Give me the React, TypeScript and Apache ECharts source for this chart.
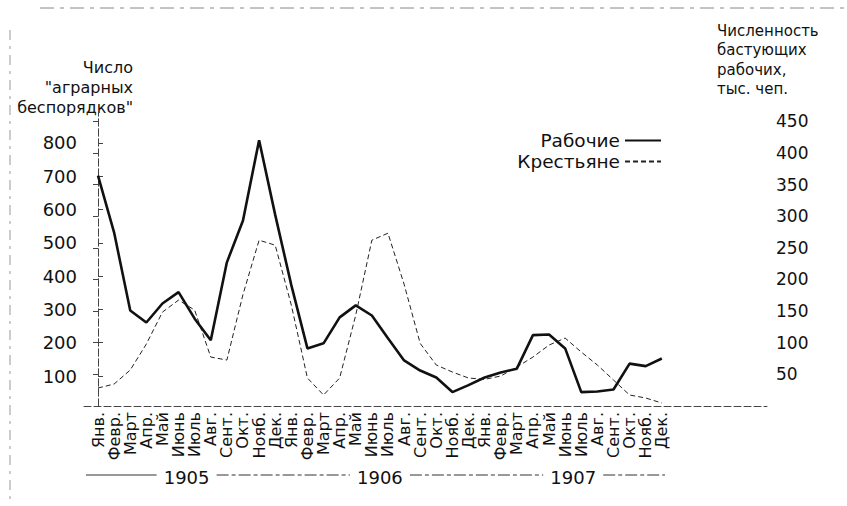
import React, { useEffect, useRef } from "react";
import * as echarts from "echarts";

const monthLabels = [
  "Янв.", "Февр.", "Март", "Апр.", "Май", "Июнь", "Июль", "Авг.", "Сент.", "Окт.", "Нояб.", "Дек.",
  "Янв.", "Февр.", "Март", "Апр.", "Май", "Июнь", "Июль", "Авг.", "Сент.", "Окт.", "Нояб.", "Дек.",
  "Янв.", "Февр.", "Март", "Апр.", "Май", "Июнь", "Июль", "Авг.", "Сент.", "Окт.", "Нояб.", "Дек.",
];
const years = ["1905", "1906", "1907"];

// Workers on strike, thousands (right axis)
const workers = [
  364, 274, 151, 132, 162, 180, 138, 104, 227, 293, 420, 302,
  191, 91, 99, 140, 159, 143, 107, 72, 56, 45, 22, 33,
  45, 53, 59, 112, 113, 91, 22, 23, 26, 67, 63, 75,
];
// Number of "agrarian disturbances" (left axis)
const peasants = [
  64, 76, 118, 196, 292, 328, 298, 157, 148, 345, 508, 493,
  313, 94, 43, 94, 283, 508, 529, 376, 198, 133, 112, 94,
  90, 100, 127, 157, 193, 214, 172, 133, 88, 43, 34, 19,
];
const leftTicks = [100, 200, 300, 400, 500, 600, 700, 800];
const rightTicks = [50, 100, 150, 200, 250, 300, 350, 400, 450];
const seriesNames = ["Рабочие", "Крестьяне"];

const FONT = "DejaVu Sans";

export default function App() {
  const ref = useRef<HTMLDivElement>(null);
  useEffect(() => {
    document.body.style.margin = "0";
    if (!ref.current) return;
    const chart = echarts.init(ref.current, null, { renderer: "svg" });
    const idx = monthLabels.map((_, i) => i);
    const axisLineStyle = { color: "#444", width: 1, type: [7, 3] as any };
    chart.setOption({
      animation: false,
      backgroundColor: "#fff",
      grid: { left: 84, right: 80, top: 113, bottom: 100, containLabel: false, outerBoundsMode: "none" },
      legend: {
        data: seriesNames,
        orient: "vertical",
        align: "right",
        right: 180,
        top: 126,
        itemWidth: 36,
        itemHeight: 12,
        itemGap: 2,
        itemStyle: { opacity: 0 },
        textStyle: { fontFamily: FONT, fontSize: 18.5, lineHeight: 17, color: "#111" },
      },
      xAxis: [
        {
          type: "value",
          min: -0.87,
          max: 41.53,
          axisLine: { show: true, lineStyle: axisLineStyle },
          axisTick: { show: false },
          splitLine: { show: false },
          axisLabel: {
            customValues: idx,
            rotate: 90,
            margin: 6,
            showMinLabel: true,
            showMaxLabel: true,
            hideOverlap: false,
            fontFamily: FONT,
            fontSize: 16,
            color: "#111",
            formatter: (v: number) => monthLabels[Math.round(v)] ?? "",
          },
        },
        {
          type: "value",
          position: "bottom",
          offset: 56,
          min: -0.87,
          max: 41.53,
          axisLine: { show: false },
          axisTick: { show: false },
          splitLine: { show: false },
          axisLabel: {
            customValues: years.map((_, k) => k * 12 + 5.5),
            margin: 6,
            showMinLabel: true,
            showMaxLabel: true,
            fontFamily: FONT,
            fontSize: 18,
            color: "#111",
            formatter: (v: number) => years[Math.floor(v / 12)] ?? "",
          },
        },
      ],
      yAxis: [
        {
          type: "value",
          position: "left",
          min: 10,
          max: 890,
          axisLine: { show: true, lineStyle: axisLineStyle },
          axisTick: { show: true, inside: true, length: 5, customValues: leftTicks, lineStyle: { color: "#444" } },
          splitLine: { show: false },
          axisLabel: {
            customValues: leftTicks,
            margin: 7,
            showMinLabel: true,
            showMaxLabel: true,
            fontFamily: FONT,
            fontSize: 18,
            color: "#111",
          },
        },
        {
          type: "value",
          position: "right",
          min: 0,
          max: 463,
          axisLine: { show: true, lineStyle: axisLineStyle },
          axisTick: { show: true, inside: true, length: 5, customValues: rightTicks, lineStyle: { color: "#444" } },
          splitLine: { show: false },
          axisLabel: {
            customValues: rightTicks,
            margin: 9,
            showMinLabel: true,
            showMaxLabel: true,
            fontFamily: FONT,
            fontSize: 17,
            color: "#111",
          },
        },
      ],
      series: [
        {
          name: seriesNames[0],
          type: "line",
          xAxisIndex: 0,
          yAxisIndex: 1,
          symbol: "none",
          lineStyle: { color: "#111", width: 2.6 },
          itemStyle: { color: "#111" },
          data: workers.map((v, i) => [i, v]),
          z: 3,
        },
        {
          name: seriesNames[1],
          type: "line",
          xAxisIndex: 0,
          yAxisIndex: 0,
          symbol: "none",
          lineStyle: { color: "#222", width: 1, type: [5, 3] },
          itemStyle: { color: "#222" },
          data: peasants.map((v, i) => [i, v]),
          z: 2,
        },
      ],
    });

    const px = (v: number) => chart.convertToPixel({ xAxisIndex: 0 }, v) as number;
    const yLine = 475;
    const centers = years.map((_, k) => px(k * 12 + 5.5));
    const gap = 30;
    const bounds = [px(-0.75), ...centers.flatMap((c) => [c - gap, c + gap]), px(35.2)];
    const bracket: any[] = [];
    for (let s = 0; s < bounds.length; s += 2) {
      bracket.push({
        type: "line",
        shape: { x1: bounds[s], y1: yLine, x2: bounds[s + 1], y2: yLine },
        style: { stroke: "#333", lineWidth: 1, lineDash: s === 0 ? null : [12, 3, 4, 3] },
      });
    }
    chart.setOption({
      graphic: [
        {
          type: "text",
          x: 133,
          y: 57,
          style: {
            text: 'Число\n"аграрных\nбеспорядков"',
            align: "right",
            verticalAlign: "top",
            fontFamily: FONT,
            fontSize: 16,
            lineHeight: 20,
            fill: "#111",
          },
        },
        {
          type: "text",
          x: 717,
          y: 21,
          style: {
            text: "Численность\nбастующих\nрабочих,\nтыс. чеп.",
            align: "left",
            verticalAlign: "top",
            fontFamily: FONT,
            fontSize: 15,
            lineHeight: 19.5,
            fill: "#111",
          },
        },
        ...bracket,
        {
          type: "line",
          shape: { x1: 40, y1: 8, x2: 847, y2: 8 },
          style: { stroke: "#888", lineWidth: 1, lineDash: [14, 6, 4, 6] },
        },
        {
          type: "line",
          shape: { x1: 10, y1: 30, x2: 10, y2: 500 },
          style: { stroke: "#999", lineWidth: 1, lineDash: [10, 6, 3, 6] },
        },
      ],
    });
    return () => chart.dispose();
  }, []);
  return <div ref={ref} style={{ width: 847, height: 506 }} />;
}
